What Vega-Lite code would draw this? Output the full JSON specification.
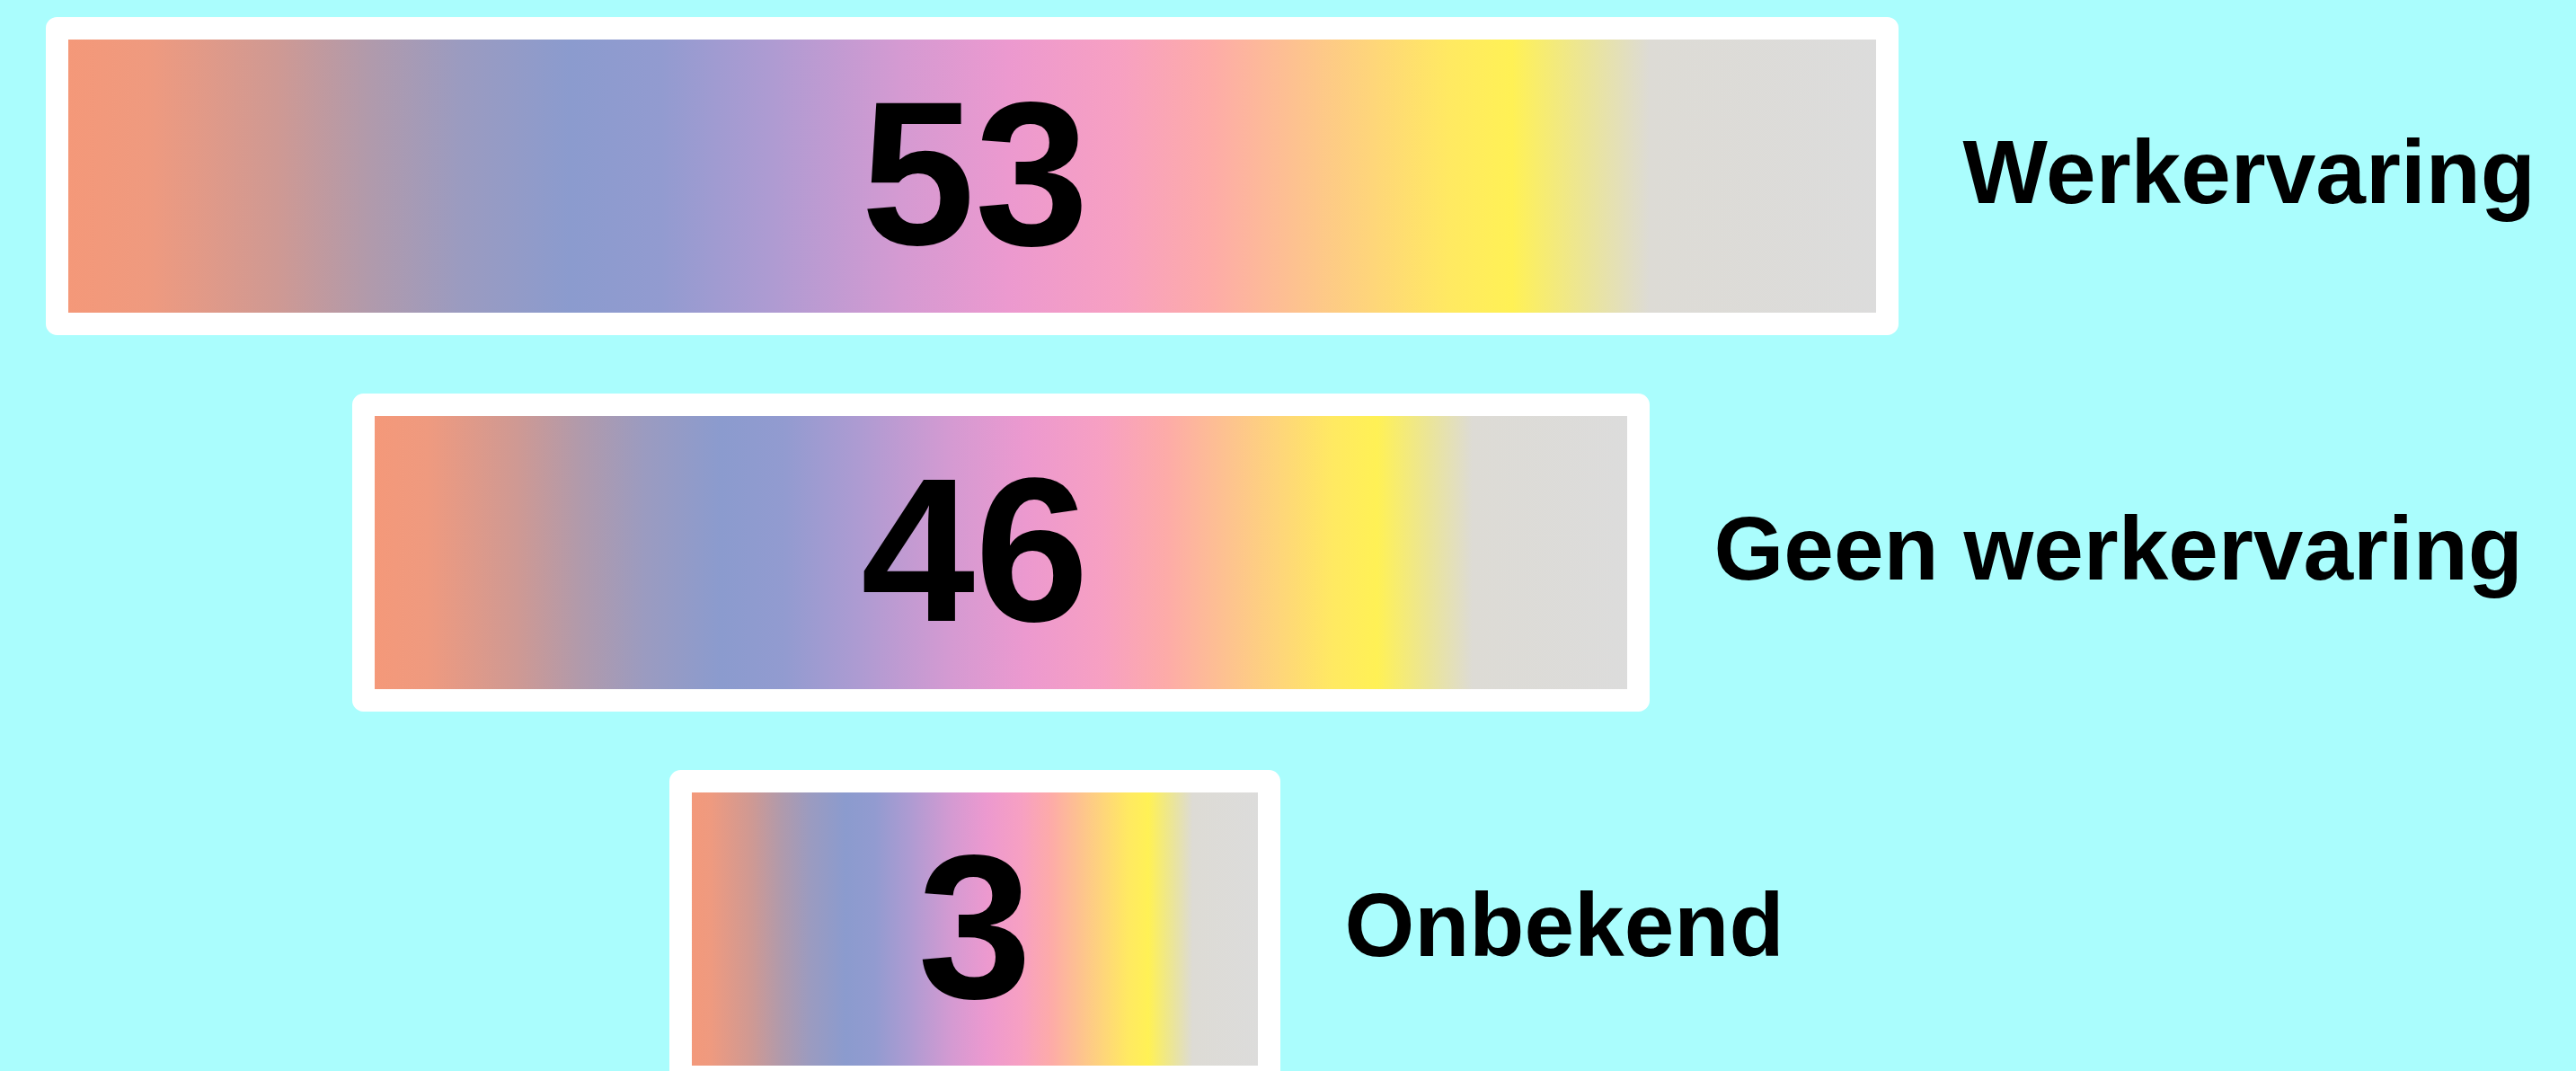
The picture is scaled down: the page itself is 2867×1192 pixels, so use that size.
{
  "$schema": "https://vega.github.io/schema/vega-lite/v6.json",
  "width": 2867,
  "height": 1192,
  "padding": 0,
  "autosize": {"type": "none"},
  "background": "#aafdfd",
  "config": {"view": {"stroke": null}},
  "data": {"values": [
    {"categorie": "Werkervaring", "aantal": 53},
    {"categorie": "Geen werkervaring", "aantal": 46},
    {"categorie": "Onbekend", "aantal": 3}
  ]},
  "transform": [
    {"stack": "aantal", "groupby": ["categorie"], "offset": "center", "as": ["x0", "x1"]}
  ],
  "encoding": {
    "y": {
      "field": "categorie",
      "type": "nominal",
      "sort": null,
      "axis": null,
      "scale": {"range": [0, 1230], "paddingInner": 0.215, "paddingOuter": 0.075}
    }
  },
  "layer": [
    {
      "mark": {
        "type": "bar",
        "clip": true,
        "stroke": "white",
        "strokeWidth": 25,
        "strokeJoin": "round",
        "fill": {
          "gradient": "linear",
          "x1": 0, "y1": 0, "x2": 1, "y2": 0,
          "stops": [
            {"offset": 0, "color": "#f59878"},
            {"offset": 0.05, "color": "#ef9a7f"},
            {"offset": 0.12, "color": "#cf9993"},
            {"offset": 0.17, "color": "#b19aab"},
            {"offset": 0.22, "color": "#9b9bc0"},
            {"offset": 0.28, "color": "#8b9bce"},
            {"offset": 0.33, "color": "#929bd0"},
            {"offset": 0.39, "color": "#ae9bd2"},
            {"offset": 0.46, "color": "#d49ad2"},
            {"offset": 0.52, "color": "#ec99cf"},
            {"offset": 0.58, "color": "#f7a0c2"},
            {"offset": 0.63, "color": "#fdaba8"},
            {"offset": 0.68, "color": "#fdc38e"},
            {"offset": 0.72, "color": "#fed679"},
            {"offset": 0.76, "color": "#ffe962"},
            {"offset": 0.795, "color": "#fff155"},
            {"offset": 0.835, "color": "#ebe597"},
            {"offset": 0.87, "color": "#dddbd5"},
            {"offset": 1, "color": "#dcdcdc"}
          ]
        }
      },
      "encoding": {
        "x": {
          "field": "x0",
          "type": "quantitative",
          "axis": null,
          "scale": {
            "domain": [0, 3.5, 25, 28, 49.5, 53],
            "range": [63.5, 404.5, 757.5, 1412.5, 1823.5, 2100.5],
            "nice": false,
            "zero": false
          }
        },
        "x2": {"field": "x1"}
      }
    },
    {
      "mark": {
        "type": "text",
        "font": "Liberation Sans",
        "fontWeight": "bold",
        "fontSize": 228,
        "align": "center",
        "baseline": "middle",
        "dy": 8,
        "color": "#000000"
      },
      "encoding": {
        "x": {"datum": 26.5, "type": "quantitative"},
        "text": {"field": "aantal", "type": "quantitative"}
      }
    },
    {
      "mark": {
        "type": "text",
        "font": "Liberation Sans",
        "fontWeight": "bold",
        "fontSize": 100,
        "align": "left",
        "baseline": "middle",
        "dx": 84,
        "color": "#000000"
      },
      "encoding": {
        "x": {"field": "x1", "type": "quantitative"},
        "text": {"field": "categorie", "type": "nominal"}
      }
    }
  ]
}
